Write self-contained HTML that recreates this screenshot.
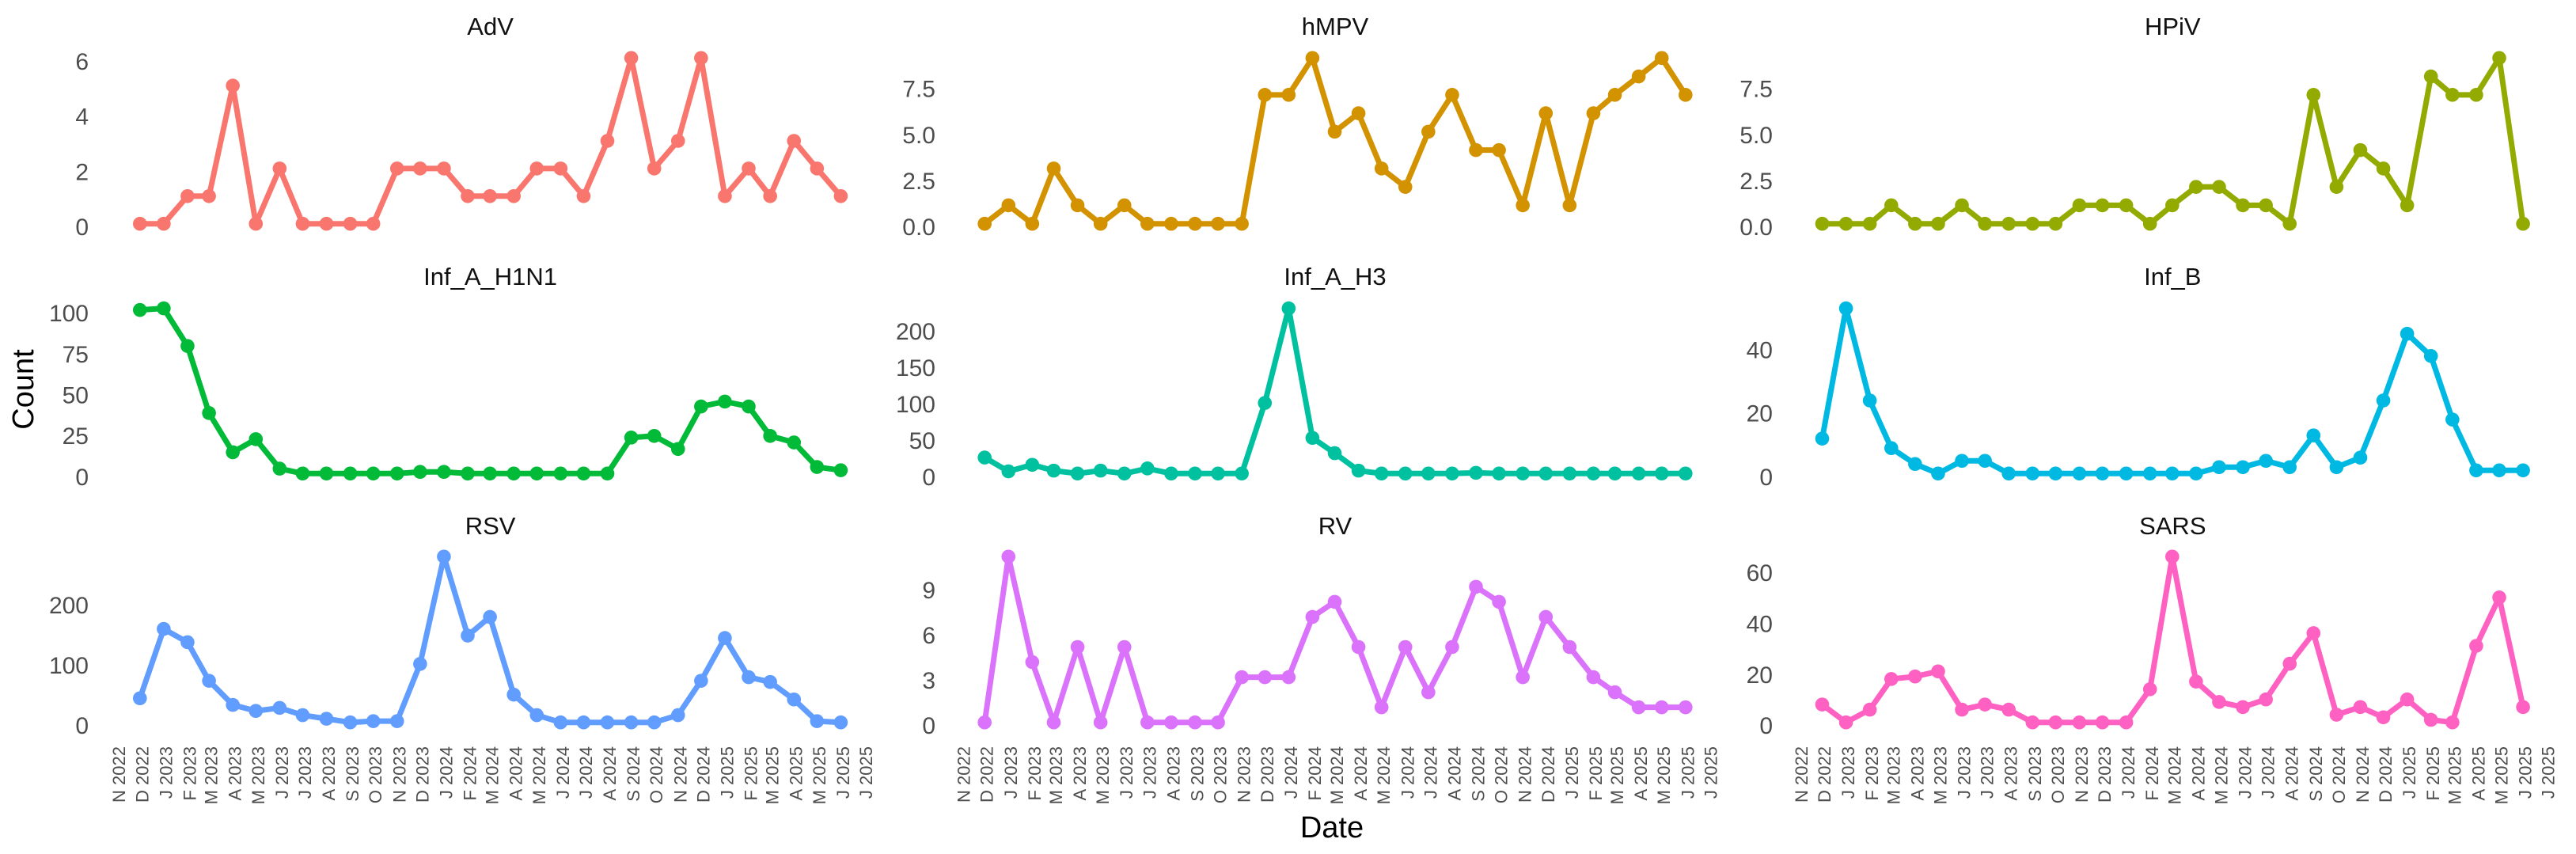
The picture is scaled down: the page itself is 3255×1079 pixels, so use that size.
<!DOCTYPE html>
<html lang="en">
<head>
<meta charset="utf-8">
<title>Monthly pathogen counts</title>
<style>
  html, body { margin: 0; padding: 0; background: #fff; }
  svg { display: block; font-family: "Liberation Sans", sans-serif; }
</style>
</head>
<body>
<svg id="chart" width="3255" height="1079" viewBox="0 0 3255 1079" xmlns="http://www.w3.org/2000/svg">
  <rect x="0" y="0" width="3255" height="1079" fill="#ffffff"/>
  <text transform="translate(42,492) rotate(-90)" text-anchor="middle" font-size="38" fill="#000">Count</text>
  <text x="1683" y="1058" text-anchor="middle" font-size="38" fill="#000">Date</text>
</svg>
<script>
// Axis categories
const tickDates = ["2022-11-01","2022-12-01","2023-01-01","2023-02-01","2023-03-01","2023-04-01","2023-05-01","2023-06-01","2023-07-01","2023-08-01","2023-09-01","2023-10-01","2023-11-01","2023-12-01","2024-01-01","2024-02-01","2024-03-01","2024-04-01","2024-05-01","2024-06-01","2024-07-01","2024-08-01","2024-09-01","2024-10-01","2024-11-01","2024-12-01","2025-01-01","2025-02-01","2025-03-01","2025-04-01","2025-05-01","2025-06-01","2025-07-01"];
const tickLabels = ["N 2022","D 2022","J 2023","F 2023","M 2023","A 2023","M 2023","J 2023","J 2023","A 2023","S 2023","O 2023","N 2023","D 2023","J 2024","F 2024","M 2024","A 2024","M 2024","J 2024","J 2024","A 2024","S 2024","O 2024","N 2024","D 2024","J 2025","F 2025","M 2025","A 2025","M 2025","J 2025","J 2025"];
const pointDates = ["2022-12-01","2023-01-01","2023-02-01","2023-03-01","2023-04-01","2023-05-01","2023-06-01","2023-07-01","2023-08-01","2023-09-01","2023-10-01","2023-11-01","2023-12-01","2024-01-01","2024-02-01","2024-03-01","2024-04-01","2024-05-01","2024-06-01","2024-07-01","2024-08-01","2024-09-01","2024-10-01","2024-11-01","2024-12-01","2025-01-01","2025-02-01","2025-03-01","2025-04-01","2025-05-01","2025-06-01"];

// Series values
const advValues  = [0,0,1,1,5,0,2,0,0,0,0,2,2,2,1,1,1,2,2,1,3,6,2,3,6,1,2,1,3,2,1];
const hmpvValues = [0,1,0,3,1,0,1,0,0,0,0,0,7,7,9,5,6,3,2,5,7,4,4,1,6,1,6,7,8,9,7];
const hpivValues = [0,0,0,1,0,0,1,0,0,0,0,1,1,1,0,1,2,2,1,1,0,7,2,4,3,1,8,7,7,9,0];
const h1n1Values = [100,101,78,37,13,21,3,0,0,0,0,0,1,1,0,0,0,0,0,0,0,22,23,15,41,44,41,23,19,4,2];
const h3Values   = [22,3,12,4,0,4,0,7,0,0,0,0,97,227,49,28,4,0,0,0,0,1,0,0,0,0,0,0,0,0,0];
const infBValues = [11,52,23,8,3,0,4,4,0,0,0,0,0,0,0,0,0,2,2,4,2,12,2,5,23,44,37,17,1,1,1];
const rsvValues  = [40,155,133,69,29,19,24,12,6,0,2,2,97,275,144,175,46,12,0,0,0,0,0,12,69,140,75,67,38,2,0];
const rvValues   = [0,11,4,0,5,0,5,0,0,0,0,3,3,3,7,8,5,1,5,2,5,9,8,3,7,5,3,2,1,1,1];
const sarsValues = [7,0,5,17,18,20,5,7,5,0,0,0,0,0,13,65,16,8,6,9,23,35,3,6,2,9,1,0,30,49,6];

// Y-axis tick labels
const advTicks  = ["0","2","4","6"];
const hmpvTicks = ["0.0","2.5","5.0","7.5"];
const hpivTicks = ["0.0","2.5","5.0","7.5"];
const h1n1Ticks = ["0","25","50","75","100"];
const h3Ticks   = ["0","50","100","150","200"];
const infBTicks = ["0","20","40"];
const rsvTicks  = ["0","100","200"];
const rvTicks   = ["0","3","6","9"];
const sarsTicks = ["0","20","40","60"];

const panelTitles = ["AdV","hMPV","HPiV","Inf_A_H1N1","Inf_A_H3","Inf_B","RSV","RV","SARS"];
const panelValues = [advValues,hmpvValues,hpivValues,h1n1Values,h3Values,infBValues,rsvValues,rvValues,sarsValues];
const panelTicks  = [advTicks,hmpvTicks,hpivTicks,h1n1Ticks,h3Ticks,infBTicks,rsvTicks,rvTicks,sarsTicks];
const panelColors = ["#F8766D","#D39200","#93AA00","#00BA38","#00C19F","#00B9E3","#619CFF","#DB72FB","#FF61C3"];
const panelKeys   = ["adv","hmpv","hpiv","inf-a-h1n1","inf-a-h3","inf-b","rsv","rv","sars"];

// Layout
const SVGNS = "http://www.w3.org/2000/svg";
const colLeft = [176.8, 1244.2, 2302.5];
const colWidth = 885.6;
const rowTop = [73.3, 389.6, 703.3];
const rowHeight = [209.4, 208.7, 209.4];
const tickRight = [112, 1182, 2240];
const titleBaseline = [44, 360, 675];

function dayNumber(s) {
  return Date.parse(s + "T00:00:00Z") / 86400000;
}
const dayStart = dayNumber(pointDates[0]);
const dayEnd = dayNumber(pointDates[pointDates.length - 1]);

function xScale(col, dateString) {
  return colLeft[col] + (dayNumber(dateString) - dayStart) / (dayEnd - dayStart) * colWidth;
}
function yScale(row, values, v) {
  const lo = Math.min.apply(null, values);
  const hi = Math.max.apply(null, values);
  const span = (hi - lo) || 1;
  return rowTop[row] + rowHeight[row] - (v - lo) / span * rowHeight[row];
}

const svg = document.getElementById("chart");

panelTitles.forEach(function (title, i) {
  const col = i % 3;
  const row = Math.floor(i / 3);
  const values = panelValues[i];
  const color = panelColors[i];

  const g = document.createElementNS(SVGNS, "g");
  
  
  svg.appendChild(g);

  const t = document.createElementNS(SVGNS, "text");
  
  
  t.setAttribute("x", colLeft[col] + colWidth / 2);
  t.setAttribute("y", titleBaseline[row]);
  t.setAttribute("text-anchor", "middle");
  t.setAttribute("font-size", "31");
  t.setAttribute("fill", "#111");
  t.textContent = title;
  g.appendChild(t);

  panelTicks[i].forEach(function (label) {
    const tick = document.createElementNS(SVGNS, "text");
    
    
    tick.setAttribute("x", tickRight[col]);
    tick.setAttribute("y", yScale(row, values, parseFloat(label)) + 3.7 + 10.8);
    tick.setAttribute("text-anchor", "end");
    tick.setAttribute("font-size", "30");
    tick.setAttribute("fill", "#4d4d4d");
    tick.textContent = label;
    g.appendChild(tick);
  });

  const line = document.createElementNS(SVGNS, "polyline");
  
  
  line.setAttribute("points", values.map(function (v, k) {
    return xScale(col, pointDates[k]).toFixed(2) + "," + yScale(row, values, v).toFixed(2);
  }).join(" "));
  line.setAttribute("fill", "none");
  line.setAttribute("stroke", color);
  line.setAttribute("stroke-width", "7");
  line.setAttribute("stroke-linejoin", "round");
  line.setAttribute("stroke-linecap", "round");
  g.appendChild(line);

  values.forEach(function (v, k) {
    const c = document.createElementNS(SVGNS, "circle");
    
    
    c.setAttribute("cx", xScale(col, pointDates[k]).toFixed(2));
    c.setAttribute("cy", yScale(row, values, v).toFixed(2));
    c.setAttribute("r", "8.8");
    c.setAttribute("fill", color);
    g.appendChild(c);
  });

  if (row === 2) {
    tickLabels.forEach(function (label, k) {
      const px = xScale(col, tickDates[k]) + 2.5 + 8;
      const tl = document.createElementNS(SVGNS, "text");
      
      
      tl.setAttribute("transform", "translate(" + px.toFixed(2) + ",943) rotate(-90)");
      tl.setAttribute("text-anchor", "end");
      tl.setAttribute("font-size", "22");
      tl.setAttribute("fill", "#4d4d4d");
      tl.textContent = label;
      g.appendChild(tl);
    });
  }
});
</script>
</body>
</html>
